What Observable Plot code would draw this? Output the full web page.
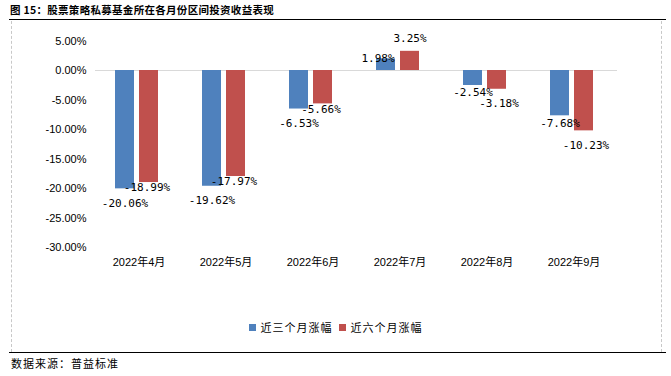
<!DOCTYPE html>
<html>
<head>
<meta charset="utf-8">
<script src="https://cdn.jsdelivr.net/npm/d3@7"></script>
<script src="https://cdn.jsdelivr.net/npm/@observablehq/plot@0.6"></script>
<style>
  html, body { margin: 0; padding: 0; background: #fff; }
  #wrap { position: relative; width: 671px; height: 376px; background: #fff; overflow: hidden;
          font-family: "Noto Sans CJK SC", "Liberation Sans", sans-serif; color: #000; }
  #title { position: absolute; left: 10px; top: 2px; font-size: 10.5px; font-weight: bold; letter-spacing: 0.3px; white-space: nowrap; }
  .hline { position: absolute; left: 9px; width: 657px; height: 0; border-top: 1.5px solid #000; }
  .vline { position: absolute; top: 21px; height: 331px; width: 0; border-left: 1px dashed #c8c8c8; }
  #chart { position: absolute; left: 0; top: 22px; }
  #legend { position: absolute; top: 319px; left: 0; width: 671px; display: flex; justify-content: center; font-size: 11px; letter-spacing: 1px; }
  .item { display: flex; align-items: center; margin: 0 3px; }
  .sw { width: 7px; height: 7px; margin-right: 5px; }
  #caption { position: absolute; left: 11px; top: 355px; font-size: 11px; letter-spacing: 1px; }
</style>
</head>
<body>
<div id="wrap">
  <div id="title"></div>
  <div class="hline" style="top:19px"></div>
  <div class="vline" style="left:11px"></div>
  <div class="vline" style="left:661px"></div>
  <div id="chart"></div>
  <div id="legend"></div>
  <div class="hline" style="top:352px"></div>
  <div id="caption"></div>
</div>
<script>
const titleText = "图 15：股票策略私募基金所在各月份区间投资收益表现";
const captionText = "数据来源：普益标准";
const months = ["2022年4月", "2022年5月", "2022年6月", "2022年7月", "2022年8月", "2022年9月"];
const seriesNames = ["近三个月涨幅", "近六个月涨幅"];
const threeMonth = [-20.06, -19.62, -6.53, 1.98, -2.54, -7.68];
const sixMonth = [-18.99, -17.97, -5.66, 3.25, -3.18, -10.23];
const yTicks = [5, 0, -5, -10, -15, -20, -25, -30];
const colors = ["#4F81BD", "#C0504D"];

document.getElementById("title").textContent = titleText;
document.getElementById("caption").textContent = captionText;

const data = [];
months.forEach((m, i) => {
  const redDeeper = Math.abs(sixMonth[i]) > Math.abs(threeMonth[i]);
  data.push({month: m, series: seriesNames[0], value: threeMonth[i], redDeeper});
  data.push({month: m, series: seriesNames[1], value: sixMonth[i], redDeeper});
});
const fmt = d => d.toFixed(2) + "%";
const labelFont = {fontFamily: "DejaVu Sans Mono", fontSize: 11, fill: "#000"};
const isBlue = d => d.series === seriesNames[0];
const isRed = d => d.series === seriesNames[1];
const lbl = (filter, opts) => Plot.text(data.filter(filter),
  {fx: "month", x: "series", y: "value", text: d => fmt(d.value), ...labelFont, ...opts});

const chart = Plot.plot({
  width: 671,
  height: 260,
  marginTop: 18.5,
  marginBottom: 35,
  marginLeft: 94,
  marginRight: 54,
  style: {fontFamily: "Liberation Sans, Noto Sans CJK SC, sans-serif", fontSize: "11px", color: "#000", background: "transparent"},
  fx: {domain: months, padding: 0, axis: "bottom", label: null, tickSize: 0, tickPadding: 11},
  x: {domain: seriesNames, axis: null, paddingInner: 0.2, paddingOuter: 0.844, align: 0.45},
  y: {domain: [-30, 5], ticks: yTicks, tickFormat: fmt, tickSize: 0, tickPadding: 9, label: null},
  color: {domain: seriesNames, range: colors},
  marks: [
    Plot.ruleY([0], {stroke: "#d9d9d9", strokeWidth: 1}),
    Plot.barY(data, {fx: "month", x: "series", y1: 0, y2: "value", fill: "series"}),
    lbl(d => d.value < 0 && isBlue(d) && !d.redDeeper, {lineAnchor: "top", dy: 10}),
    lbl(d => d.value < 0 && isRed(d) && !d.redDeeper, {lineAnchor: "top", dy: 1, dx: -2}),
    lbl(d => d.value < 0 && isBlue(d) && d.redDeeper, {lineAnchor: "top", dy: 3}),
    lbl(d => d.value < 0 && isRed(d) && d.redDeeper, {lineAnchor: "top", dy: 10, dx: 2}),
    lbl(d => d.value >= 0 && isBlue(d), {lineAnchor: "middle", dy: 0, dx: -8}),
    lbl(d => d.value >= 0 && isRed(d), {lineAnchor: "bottom", dy: -9})
  ]
});
document.getElementById("chart").appendChild(chart);

const legend = document.getElementById("legend");
seriesNames.forEach((s, i) => {
  const item = document.createElement("div");
  item.className = "item";
  const sw = document.createElement("div");
  sw.className = "sw";
  sw.style.background = colors[i];
  const t = document.createElement("span");
  t.textContent = s;
  item.appendChild(sw);
  item.appendChild(t);
  legend.appendChild(item);
});
</script>
</body>
</html>
